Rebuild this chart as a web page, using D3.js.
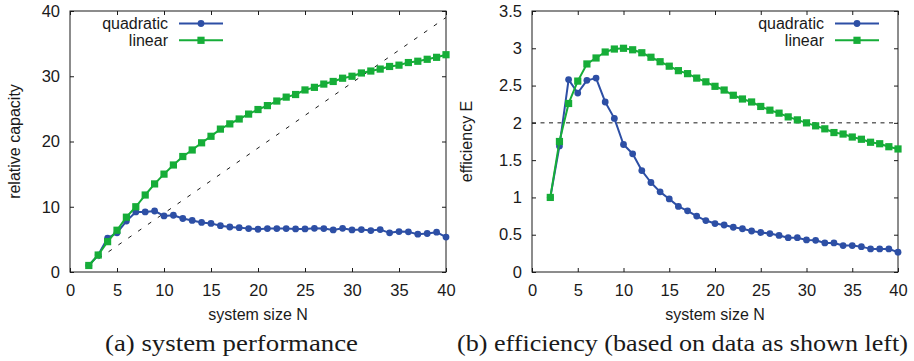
<!DOCTYPE html>
<html>
<head>
<meta charset="utf-8">
<script src="https://cdn.jsdelivr.net/npm/d3@7"></script>
<style>
  html, body { margin: 0; padding: 0; background: #fff; }
  svg { display: block; }
  text { font-family: "Liberation Sans", Arial, sans-serif; fill: #1a1a1a; }
  .cap { font-family: "Liberation Serif", "Times New Roman", serif; }
</style>
</head>
<body>
<svg id="chart" width="914" height="361"></svg>
<script>
// ---------- data ----------
const systemSize = [2,3,4,5,6,7,8,9,10,11,12,13,14,15,16,17,18,19,20,21,22,23,24,25,26,27,28,29,30,31,32,33,34,35,36,37,38,39,40];
const capacityQuadratic = [1.0,2.6,5.2,6.0,7.8,9.2,9.2,9.35,8.6,8.7,8.2,7.9,7.6,7.45,7.1,6.9,6.8,6.65,6.55,6.65,6.65,6.65,6.6,6.6,6.7,6.65,6.45,6.7,6.45,6.5,6.35,6.5,6.0,6.2,6.15,5.8,5.9,6.1,5.35];
const capacityLinear = [1.0,2.6,4.65,6.4,8.4,10.0,11.8,13.5,15.0,16.4,17.7,18.7,19.8,20.8,21.9,22.7,23.45,24.2,24.9,25.5,26.2,26.8,27.2,27.9,28.3,28.8,29.2,29.7,30.0,30.5,30.8,31.1,31.5,31.7,32.1,32.3,32.6,32.9,33.3];
const efficiencyQuadratic = [1.0,1.69,2.58,2.40,2.57,2.60,2.28,2.06,1.71,1.585,1.36,1.20,1.075,0.98,0.88,0.82,0.75,0.69,0.65,0.63,0.60,0.58,0.55,0.53,0.515,0.49,0.46,0.46,0.43,0.425,0.39,0.39,0.355,0.355,0.34,0.31,0.31,0.31,0.265];
const efficiencyLinear = [1.0,1.75,2.26,2.56,2.79,2.87,2.95,2.99,3.00,2.98,2.94,2.88,2.82,2.76,2.70,2.66,2.60,2.55,2.49,2.44,2.37,2.32,2.28,2.22,2.17,2.13,2.08,2.04,2.00,1.96,1.92,1.87,1.85,1.81,1.78,1.74,1.72,1.68,1.65];
const idealSize = [2, 40];
const idealCapacity = [1, 39];
const effRefSize = [0, 40];
const effRefValue = [2, 2];
const xTicks = [0,5,10,15,20,25,30,35,40];
const capTicks = [0,10,20,30,40];
const effTicks = [0,0.5,1,1.5,2,2.5,3,3.5];
const effTickLabels = ["0","0.5","1","1.5","2","2.5","3","3.5"];
const seriesNames = ["quadratic", "linear"];

// ---------- style ----------
const BLUE = "#2d4fa5", GREEN = "#16ad38", INK = "#1a1a1a";
const svg = d3.select("#chart");

function panel(opt) {
  const x = d3.scaleLinear().domain([0, 40]).range([opt.x0, opt.x1]);
  const y = d3.scaleLinear().domain(opt.yDomain).range([272, 11]);
  const g = svg.append("g");

  // frame
  g.append("rect").attr("x", opt.x0).attr("y", 11)
    .attr("width", opt.x1 - opt.x0).attr("height", 261)
    .attr("fill", "none").attr("stroke", INK).attr("stroke-width", 1);

  const styleAxis = sel => {
    sel.select(".domain").remove();
    sel.selectAll(".tick line").attr("stroke", INK);
    sel.selectAll(".tick text").attr("fill", INK)
      .style("font-family", '"Liberation Sans", Arial, sans-serif')
      .style("font-size", "16.5px");
  };
  g.append("g").attr("transform", `translate(0,272)`)
    .call(d3.axisBottom(x).tickValues(xTicks).tickSize(-4).tickSizeOuter(0).tickPadding(12))
    .call(styleAxis);
  g.append("g").attr("transform", `translate(0,11)`)
    .call(d3.axisTop(x).tickValues(xTicks).tickSize(-4).tickSizeOuter(0).tickFormat(""))
    .call(styleAxis);
  g.append("g").attr("transform", `translate(${opt.x0},0)`)
    .call(d3.axisLeft(y).tickValues(opt.yTicks).tickSize(-4).tickSizeOuter(0).tickPadding(10)
      .tickFormat((d, i) => opt.yLabels[i]))
    .call(styleAxis);
  g.append("g").attr("transform", `translate(${opt.x1},0)`)
    .call(d3.axisRight(y).tickValues(opt.yTicks).tickSize(-4).tickSizeOuter(0).tickFormat(""))
    .call(styleAxis);

  // axis titles
  g.append("text").attr("x", (opt.x0 + opt.x1) / 2).attr("y", 320)
    .attr("text-anchor", "middle").style("font-size", "16px").text("system size N");
  g.append("text").attr("transform", `translate(${opt.yTitleX},141.5) rotate(-90)`)
    .attr("text-anchor", "middle").attr("dy", "0.35em").style("font-size", "16px").text(opt.yTitle);

  // reference dashed line
  const refLine = d3.line().x(d => x(d[0])).y(d => y(d[1]));
  g.append("path").datum(d3.zip(opt.refX, opt.refY)).attr("d", refLine)
    .attr("fill", "none").attr("stroke", INK).attr("stroke-width", 1)
    .attr("stroke-dasharray", opt.dash);

  const line = d3.line().x(d => x(d[0])).y(d => y(d[1]));
  // quadratic
  const q = d3.zip(systemSize, opt.quad);
  g.append("path").datum(q).attr("d", line).attr("fill", "none")
    .attr("stroke", BLUE).attr("stroke-width", 2).attr("stroke-linejoin", "round");
  g.selectAll(null).data(q).enter().append("circle")
    .attr("cx", d => x(d[0])).attr("cy", d => y(d[1])).attr("r", 3.4).attr("fill", BLUE);
  // linear
  const l = d3.zip(systemSize, opt.lin);
  g.append("path").datum(l).attr("d", line).attr("fill", "none")
    .attr("stroke", GREEN).attr("stroke-width", 2).attr("stroke-linejoin", "round");
  g.selectAll(null).data(l).enter().append("rect")
    .attr("x", d => x(d[0]) - 3.6).attr("y", d => y(d[1]) - 3.6)
    .attr("width", 7.2).attr("height", 7.2).attr("fill", GREEN);

  // legend
  const lg = g.append("g");
  const rows = [{name: seriesNames[0], c: BLUE, m: "circle", y: 23.5},
                {name: seriesNames[1], c: GREEN, m: "square", y: 40.3}];
  rows.forEach(r => {
    lg.append("text").attr("x", opt.legX).attr("y", r.y).attr("dy", "0.35em")
      .attr("text-anchor", "end").style("font-size", "16px").text(r.name);
    lg.append("line").attr("x1", opt.legX + 11).attr("x2", opt.legX + 55)
      .attr("y1", r.y).attr("y2", r.y).attr("stroke", r.c).attr("stroke-width", 2);
    if (r.m === "circle") {
      lg.append("circle").attr("cx", opt.legX + 33).attr("cy", r.y).attr("r", 3.4).attr("fill", r.c);
    } else {
      lg.append("rect").attr("x", opt.legX + 33 - 3.6).attr("y", r.y - 3.6)
        .attr("width", 7.2).attr("height", 7.2).attr("fill", r.c);
    }
  });

  // caption
  svg.append("text").attr("class", "cap").attr("x", opt.capX).attr("y", 351)
    .attr("textLength", opt.capW).attr("lengthAdjust", "spacingAndGlyphs")
    .style("font-size", "24px").text(opt.caption);
}

panel({
  x0: 70, x1: 446, yDomain: [0, 40], yTicks: capTicks, yLabels: capTicks.map(String),
  yTitle: "relative capacity", yTitleX: 14,
  quad: capacityQuadratic, lin: capacityLinear,
  refX: idealSize, refY: idealCapacity, dash: "4,8",
  legX: 168, capX: 105, capW: 253, caption: "(a) system performance"
});
panel({
  x0: 532, x1: 898, yDomain: [0, 3.5], yTicks: effTicks, yLabels: effTickLabels,
  yTitle: "efficiency E", yTitleX: 466,
  quad: efficiencyQuadratic, lin: efficiencyLinear,
  refX: effRefSize, refY: effRefValue, dash: "4,4.5",
  legX: 824, capX: 457, capW: 451, caption: "(b) efficiency (based on data as shown left)"
});
</script>
</body>
</html>
